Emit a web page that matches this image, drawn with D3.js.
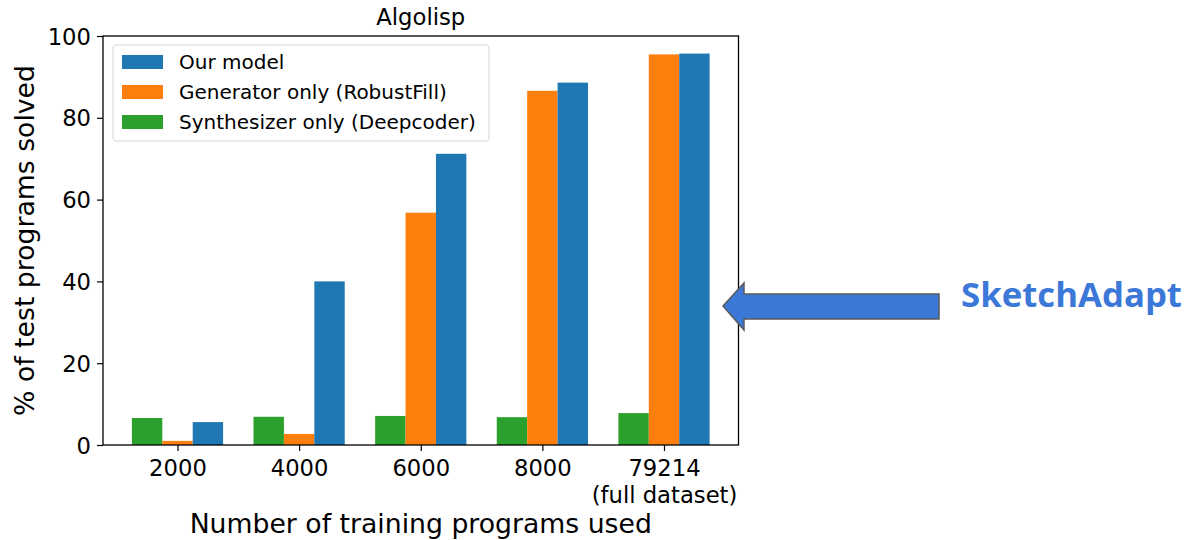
<!DOCTYPE html>
<html>
<head>
<meta charset="utf-8">
<script src="https://cdn.jsdelivr.net/npm/d3@7"></script>
<style>
  body { margin: 0; background: #fff; }
  svg { display: block; font-family: "DejaVu Sans", sans-serif; }
</style>
</head>
<body>
<svg id="chart"></svg>
<script>
const categories = ["2000", "4000", "6000", "8000", "79214\n(full dataset)"];
const ourModel = [5.6, 40.0, 71.2, 88.6, 95.7];
const generatorOnly = [1.0, 2.7, 56.8, 86.6, 95.5];
const synthesizerOnly = [6.6, 6.9, 7.1, 6.8, 7.8];
const yTicks = [0, 20, 40, 60, 80, 100];

// bars left to right: synthesizer, generator, our model
const series = [
  { name: "Synthesizer only (Deepcoder)", values: synthesizerOnly, color: "#2ca02c", offset: -1 },
  { name: "Generator only (RobustFill)", values: generatorOnly, color: "#ff7f0e", offset: 0 },
  { name: "Our model", values: ourModel, color: "#1f77b4", offset: 1 }
];
const legendOrder = [series[2], series[1], series[0]];

(function () {
  const width = 1187, height = 540;
  const svg = d3.select("#chart").attr("width", width).attr("height", height);

  const left = 103, right = 738.5, top = 36, bottom = 445;
  const barW = 0.25;

  const x = d3.scaleLinear().domain([-0.6125, categories.length - 1 + 0.6125]).range([left, right]);
  const y = d3.scaleLinear().domain([0, 100]).range([bottom, top]);

  // bars
  series.forEach(s => {
    svg.append("g").selectAll("rect")
      .data(s.values)
      .join("rect")
      .attr("x", (d, i) => x(i + s.offset * barW - barW / 2))
      .attr("width", x(barW) - x(0))
      .attr("y", d => y(d))
      .attr("height", d => y(0) - y(d))
      .attr("fill", s.color);
  });

  // axes
  const xAxis = svg.append("g")
    .attr("transform", `translate(0,${bottom})`)
    .call(d3.axisBottom(x).tickValues(d3.range(categories.length)).tickSize(6).tickFormat(""))
    .attr("font-family", "DejaVu Sans");
  xAxis.select(".domain").remove();
  xAxis.selectAll(".tick line").attr("stroke", "#000").attr("stroke-width", 1.2);
  xAxis.selectAll(".tick").each(function (d) {
    const t = d3.select(this).append("text")
      .attr("fill", "#000")
      .attr("font-size", 22.7)
      .attr("text-anchor", "middle");
    categories[d].split("\n").forEach((line, k) => {
      t.append("tspan").attr("x", 0).attr("y", 31 + k * 27).text(line);
    });
  });

  const yAxis = svg.append("g")
    .attr("transform", `translate(${left},0)`)
    .call(d3.axisLeft(y).tickValues(yTicks).tickSize(6).tickPadding(6))
    .attr("font-family", "DejaVu Sans");
  yAxis.select(".domain").remove();
  yAxis.selectAll(".tick line").attr("stroke", "#000").attr("stroke-width", 1.2);
  yAxis.selectAll(".tick text")
    .attr("fill", "#000")
    .attr("font-size", 22.7)
    .attr("dy", "0.36em");

  // frame
  svg.append("rect")
    .attr("x", left).attr("y", top)
    .attr("width", right - left).attr("height", bottom - top)
    .attr("fill", "none").attr("stroke", "#000").attr("stroke-width", 1.3);

  // title and labels
  svg.append("text")
    .attr("x", (left + right) / 2).attr("y", 25)
    .attr("text-anchor", "middle").attr("font-size", 22.7)
    .text("Algolisp");

  svg.append("text")
    .attr("x", (left + right) / 2).attr("y", 533)
    .attr("text-anchor", "middle").attr("font-size", 26.7)
    .text("Number of training programs used");

  svg.append("text")
    .attr("transform", `translate(34,${(top + bottom) / 2}) rotate(-90)`)
    .attr("text-anchor", "middle").attr("font-size", 26.7)
    .text("% of test programs solved");

  // legend
  const legend = svg.append("g");
  legend.append("rect")
    .attr("x", 113).attr("y", 45).attr("width", 376).attr("height", 96)
    .attr("rx", 3).attr("fill", "#fff").attr("fill-opacity", 0.8)
    .attr("stroke", "#d6d6d6").attr("stroke-width", 1);
  legendOrder.forEach((s, i) => {
    const cy = 62 + i * 30;
    legend.append("rect")
      .attr("x", 122).attr("y", cy - 7).attr("width", 41).attr("height", 14)
      .attr("fill", s.color);
    legend.append("text")
      .attr("x", 179).attr("y", cy + 7)
      .attr("font-size", 20)
      .text(s.name);
  });

  // annotation arrow + label
  const arrow = [[723, 306], [744, 283], [744, 294], [939, 294], [939, 319], [744, 319], [744, 330]];
  svg.append("path")
    .attr("d", d3.line()(arrow) + "Z")
    .attr("fill", "#3c78d8")
    .attr("stroke", "#595959")
    .attr("stroke-width", 1.5);

  const lbl = svg.append("text")
    .attr("x", 961).attr("y", 307)
    .attr("font-family", "'Open Sans', Lato, sans-serif")
    .attr("font-weight", 700)
    .attr("font-size", 34)
    .attr("fill", "#3c78d8")
    .text("SketchAdapt");
  const w = lbl.node().getComputedTextLength();
  lbl.attr("font-size", 34 * 221 / w);
})();
</script>
</body>
</html>
